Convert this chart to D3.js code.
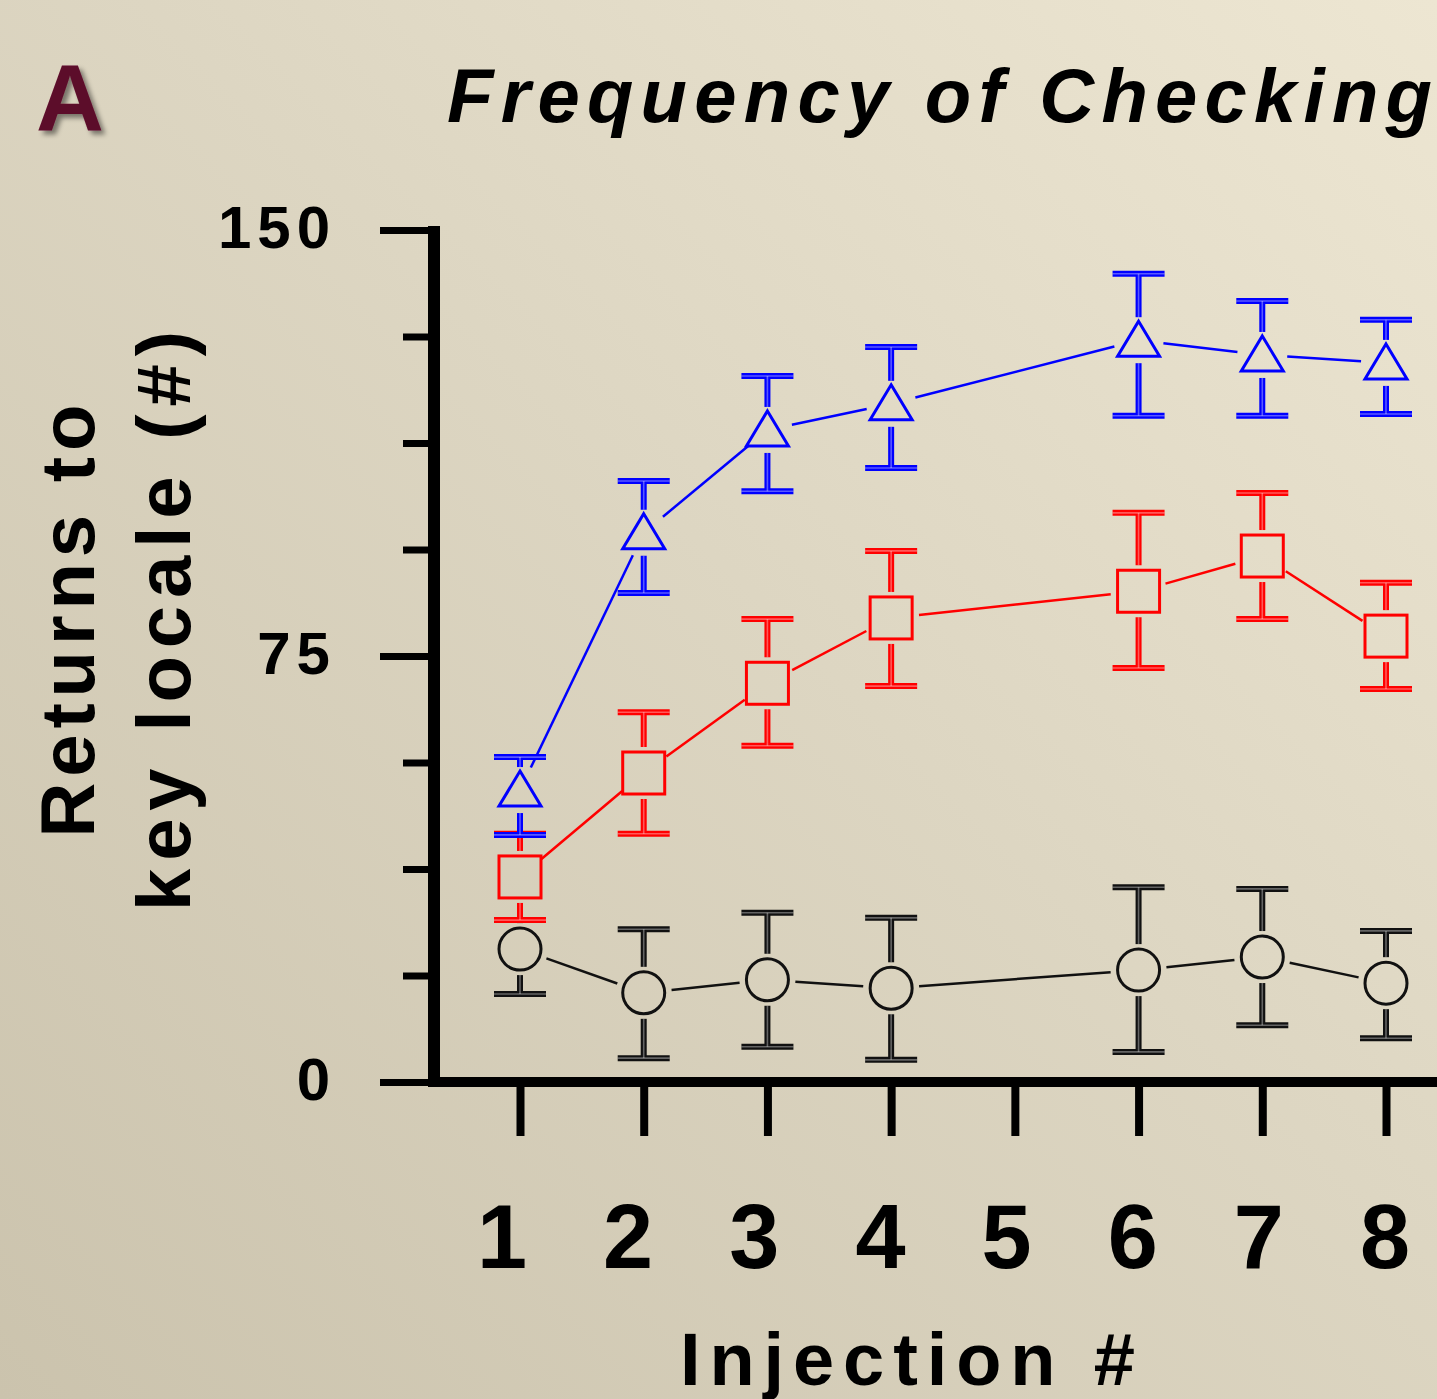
<!DOCTYPE html>
<html>
<head>
<meta charset="utf-8">
<script src="https://cdn.jsdelivr.net/npm/d3@7"></script>
<style>
  body { margin: 0; overflow: hidden; }
  svg { display: block; font-family: "Liberation Sans", Arial, sans-serif; }
</style>
</head>
<body>
<svg width="1437" height="1399"></svg>
<script>
// values
var injections = [1, 2, 3, 4, 6, 7, 8];
var xTicks = [1, 2, 3, 4, 5, 6, 7, 8];
var yMajor = [0, 75, 150];
var yMinor = [18.75, 37.5, 56.25, 93.75, 112.5, 131.25];

var circMean = [23.4, 15.7, 18.0, 16.5, 19.7, 22.0, 17.4];
var circHi   = [28.5, 26.9, 29.8, 28.9, 34.3, 34.0, 26.6];
var circLo   = [15.5, 4.2, 6.2, 3.9, 5.3, 10.0, 7.7];

var sqMean = [36.1, 54.4, 70.2, 81.7, 86.4, 92.6, 78.5];
var sqHi   = [43.7, 65.1, 81.5, 93.5, 100.2, 103.7, 87.9];
var sqLo   = [28.5, 43.7, 59.2, 69.7, 72.9, 81.5, 69.2];

var triMean = [51.4, 96.7, 114.8, 119.4, 130.6, 128.0, 126.6];
var triHi   = [57.2, 105.8, 124.3, 129.4, 142.3, 137.5, 134.2];
var triLo   = [43.5, 86.1, 104.0, 108.1, 117.3, 117.3, 117.6];

var svg = d3.select("svg"),
    width = +svg.attr("width"),
    height = +svg.attr("height");

// background
var defs = svg.append("defs");
var bg = defs.append("linearGradient")
    .attr("id", "bg")
    .attr("x1", "0%").attr("y1", "100%")
    .attr("x2", "100%").attr("y2", "0%");
bg.append("stop").attr("offset", "0%").attr("stop-color", "#cbc3ad");
bg.append("stop").attr("offset", "55%").attr("stop-color", "#ddd6c2");
bg.append("stop").attr("offset", "100%").attr("stop-color", "#ede6d2");

var shadow = defs.append("filter").attr("id", "shadow")
    .attr("x", "-20%").attr("y", "-20%").attr("width", "150%").attr("height", "150%");
shadow.append("feDropShadow")
    .attr("dx", 4).attr("dy", 4).attr("stdDeviation", 2.5)
    .attr("flood-color", "#000").attr("flood-opacity", 0.45);

svg.append("rect").attr("width", width).attr("height", height).attr("fill", "url(#bg)");

var x = d3.scaleLinear().domain([1, 8]).range([520, 1386]);
var xLab = d3.scaleLinear().domain([1, 8]).range([502, 1385]);
var y = d3.scaleLinear().domain([0, 150]).range([1082, 230]);

// panel letter + title
svg.append("text")
    .attr("x", 36).attr("y", 131)
    .attr("font-size", 94).attr("font-weight", "bold")
    .attr("fill", "#5c0a2a")
    .attr("filter", "url(#shadow)")
    .text("A");

svg.append("text")
    .attr("x", 447).attr("y", 122)
    .attr("font-size", 76).attr("font-weight", "bold").attr("font-style", "italic")
    .attr("textLength", 985).attr("lengthAdjust", "spacing")
    .text("Frequency of Checking");

// y axis
var yMinorAxis = svg.append("g")
    .attr("transform", "translate(434,0)")
    .call(d3.axisLeft(y).tickValues(yMinor).tickSize(31).tickFormat(""));
var yMajorAxis = svg.append("g")
    .attr("transform", "translate(434,0)")
    .call(d3.axisLeft(y).tickValues(yMajor).tickSize(54).tickPadding(44));

[yMinorAxis, yMajorAxis].forEach(function (g) {
    g.select(".domain").remove();
    g.selectAll("line").attr("stroke", "#000").attr("stroke-width", 7);
});
yMajorAxis.selectAll("text")
    .attr("font-size", 60).attr("font-weight", "bold")
    .attr("font-family", "Liberation Sans, Arial, sans-serif")
    .attr("letter-spacing", 6)
    .attr("fill", "#000")
    .attr("dy", "0.29em");

// x axis
var xAxis = svg.append("g")
    .attr("transform", "translate(0,1082)")
    .call(d3.axisBottom(x).tickValues(xTicks).tickSize(54).tickFormat(""));
xAxis.select(".domain").remove();
xAxis.selectAll("line").attr("stroke", "#000").attr("stroke-width", 8);

svg.append("line")
    .attr("x1", 434).attr("x2", 434)
    .attr("y1", y(150) - 4).attr("y2", y(0) + 5)
    .attr("stroke", "#000").attr("stroke-width", 12);
svg.append("line")
    .attr("x1", 428).attr("x2", width)
    .attr("y1", y(0)).attr("y2", y(0))
    .attr("stroke", "#000").attr("stroke-width", 10);

svg.append("g").selectAll("text")
    .data(xTicks)
    .enter().append("text")
    .attr("x", function (d) { return xLab(d); })
    .attr("y", 1268)
    .attr("text-anchor", "middle")
    .attr("font-size", 90).attr("font-weight", "bold")
    .text(function (d) { return d; });

svg.append("text")
    .attr("x", 680).attr("y", 1385)
    .attr("font-size", 74).attr("font-weight", "bold")
    .attr("textLength", 455).attr("lengthAdjust", "spacing")
    .text("Injection #");

// y title, two lines
var yTitle = svg.append("g").attr("transform", "translate(0,621) rotate(-90)");
yTitle.append("text")
    .attr("x", 0).attr("y", 94)
    .attr("text-anchor", "middle")
    .attr("font-size", 76).attr("font-weight", "bold")
    .attr("textLength", 433).attr("lengthAdjust", "spacing")
    .text("Returns to");
yTitle.append("text")
    .attr("x", 0).attr("y", 190)
    .attr("text-anchor", "middle")
    .attr("font-size", 76).attr("font-weight", "bold")
    .attr("textLength", 580).attr("lengthAdjust", "spacing")
    .text("key locale (#)");

// series
var series = [
    { name: "circle", color: "#111", mean: circMean, hi: circHi, lo: circLo, half: 21 },
    { name: "square", color: "#ff0000", mean: sqMean, hi: sqHi, lo: sqLo, half: 21 },
    { name: "triangle", color: "#0000ff", mean: triMean, hi: triHi, lo: triLo, half: 18 }
];

function pts(s) {
    return injections.map(function (inj, i) {
        return { x: x(inj), y: y(s.mean[i]), hi: y(s.hi[i]), lo: y(s.lo[i]) };
    });
}

var capW = 26, gap = 5;

series.forEach(function (s) {
    var g = svg.append("g").attr("class", "series-" + s.name);
    var p = pts(s);

    // connecting lines, stopped short of markers
    var segs = d3.pairs(p).map(function (pr) {
        var a = pr[0], b = pr[1];
        var dx = b.x - a.x, dy = b.y - a.y, len = Math.sqrt(dx * dx + dy * dy);
        var t = (s.half + 7) / len;
        return { x1: a.x + dx * t, y1: a.y + dy * t, x2: b.x - dx * t, y2: b.y - dy * t, ok: len > 2 * (s.half + 7) };
    }).filter(function (d) { return d.ok; });

    g.selectAll(".conn").data(segs).enter().append("line")
        .attr("class", "conn")
        .attr("x1", function (d) { return d.x1; }).attr("y1", function (d) { return d.y1; })
        .attr("x2", function (d) { return d.x2; }).attr("y2", function (d) { return d.y2; })
        .attr("stroke", s.color).attr("stroke-width", 2.5);

    // error bars (double-line look)
    var bars = [];
    p.forEach(function (d) {
        var top = d.y - s.half - gap, bot = d.y + s.half + gap;
        if (d.hi < top) {
            bars.push({ x1: d.x, y1: top, x2: d.x, y2: d.hi });
            bars.push({ x1: d.x - capW, y1: d.hi, x2: d.x + capW, y2: d.hi });
        }
        if (d.lo > bot) {
            bars.push({ x1: d.x, y1: bot, x2: d.x, y2: d.lo });
            bars.push({ x1: d.x - capW, y1: d.lo, x2: d.x + capW, y2: d.lo });
        }
    });
    [[6, s.color, 1], [1.6, "#ffffff", 0.35]].forEach(function (st) {
        g.selectAll(null).data(bars).enter().append("line")
            .attr("x1", function (d) { return d.x1; }).attr("y1", function (d) { return d.y1; })
            .attr("x2", function (d) { return d.x2; }).attr("y2", function (d) { return d.y2; })
            .attr("stroke", st[1]).attr("stroke-opacity", st[2])
            .attr("stroke-width", st[0]).attr("stroke-linecap", "butt");
    });

    // markers
    var m = g.selectAll(".mark").data(p).enter();
    if (s.name === "circle") {
        m.append("circle")
            .attr("cx", function (d) { return d.x; }).attr("cy", function (d) { return d.y; })
            .attr("r", 21)
            .attr("fill", "none").attr("stroke", s.color).attr("stroke-width", 3);
    } else if (s.name === "square") {
        m.append("rect")
            .attr("x", function (d) { return d.x - 21; }).attr("y", function (d) { return d.y - 21; })
            .attr("width", 42).attr("height", 42)
            .attr("fill", "none").attr("stroke", s.color).attr("stroke-width", 3);
    } else {
        m.append("path")
            .attr("d", function (d) {
                return "M" + d.x + "," + (d.y - 19) + "L" + (d.x + 21) + "," + (d.y + 16) +
                    "L" + (d.x - 21) + "," + (d.y + 16) + "Z";
            })
            .attr("fill", "none").attr("stroke", s.color).attr("stroke-width", 3)
            .attr("stroke-linejoin", "miter");
    }
});
</script>
</body>
</html>
